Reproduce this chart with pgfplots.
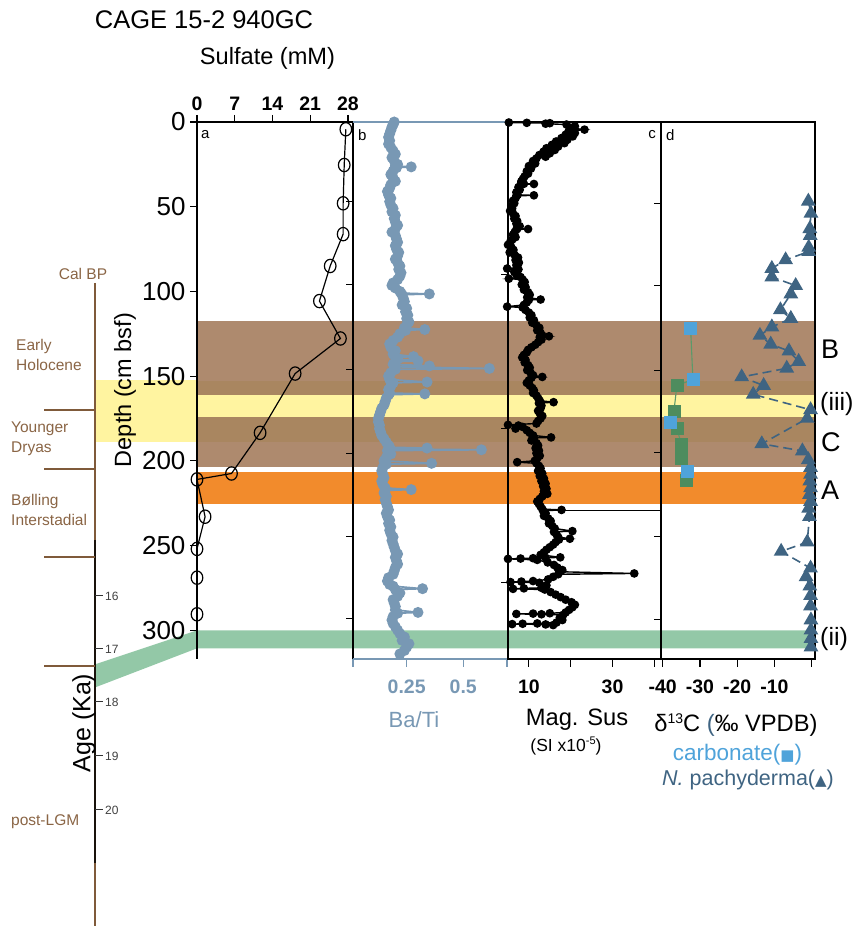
\documentclass[border=0pt]{standalone}
\usepackage{pgfplots}
\pgfplotsset{compat=1.18}
\usepackage{fontspec}
\setmainfont{Liberation Sans}
\newfontfamily\dejavu{DejaVu Sans}
\definecolor{lbrown}{HTML}{AE8A6E}
\definecolor{dbrown}{HTML}{A98660}
\definecolor{byellow}{HTML}{FFF4A0}
\definecolor{borange}{HTML}{F28B2C}
\definecolor{bgreen}{HTML}{93C8A7}
\definecolor{babl}{HTML}{7898B4}
\definecolor{tri}{HTML}{3F6482}
\definecolor{carb}{HTML}{4FA3DA}
\definecolor{sqgreen}{HTML}{4E8C5E}
\definecolor{sqline}{HTML}{5A9A6A}
\definecolor{agebrown}{HTML}{7F5A3A}
\definecolor{labbrown}{HTML}{8A6545}
\newcommand{\fs}[1]{\fontsize{#1}{#1}\selectfont}
\pgfplotsset{
  panel/.style={scale only axis, anchor=north west, height=537pt,
    ymin=-317, ymax=0, clip=false,
    tick style={black, line width=1.1pt}, major tick length=8pt,
    axis line style={-, line width=1.1pt}},
}
\begin{document}
\begin{tikzpicture}
\path[use as bounding box] (0pt,0pt) rectangle (853pt,926pt);

% ---------- background bands ----------
\begin{axis}[scale only axis, anchor=north west, at={(95pt,804pt)}, width=720pt, height=537pt,
  xmin=95, xmax=815, ymin=-317, ymax=0, hide axis, clip=false]
\addplot[fill=byellow, draw=none] coordinates {(95,-152.4) (197,-152.4) (197,-188.8) (95,-188.8)};
\addplot[fill=lbrown, draw=none] coordinates {(197,-117.5) (815,-117.5) (815,-152.8) (197,-152.8)};
\addplot[fill=dbrown, draw=none] coordinates {(197,-152.8) (815,-152.8) (815,-161.3) (197,-161.3)};
\addplot[fill=byellow, draw=none] coordinates {(197,-161.3) (815,-161.3) (815,-174.1) (197,-174.1)};
\addplot[fill=dbrown, draw=none] coordinates {(197,-174.1) (815,-174.1) (815,-188.8) (197,-188.8)};
\addplot[fill=lbrown, draw=none] coordinates {(197,-188.8) (815,-188.8) (815,-203.6) (197,-203.6)};
\addplot[fill=borange, draw=none] coordinates {(197,-206.5) (815,-206.5) (815,-225.6) (197,-225.6)};
\addplot[fill=bgreen, draw=none] coordinates {(95,-320.2) (197,-300.1) (815,-300.1) (815,-310.7) (197,-310.7) (95,-333.8)};
\end{axis}

% ---------- panel a : sulfate ----------
\begin{axis}[panel, at={(197pt,804pt)}, width=156pt, xmin=0, xmax=28.93,
  axis x line*=top, axis y line*=left,
  xtick={0,7,14,21,28}, xticklabels={0,7,14,21,28},
  ytick={-300,-250,-200,-150,-100,-50,0}, yticklabels={300,250,200,150,100,50,0},
  tick align=outside, major tick length=7pt,
  xticklabel style={font=\bfseries\fs{19.5}, yshift=1pt},
  yticklabel style={font=\fs{26}, xshift=-1pt}]
\addplot[black, line width=1.2pt, mark=o, mark size=5.8pt, mark options={line width=1.2pt, yscale=1.15}]
 table[x=v, y expr=-\thisrow{d}] {
v d
27.6 4.3
27.3 25.4
27.1 48
27.1 66.2
24.7 85
22.7 105.7
26.6 127.8
18.2 148.5
11.7 183.5
6.4 207.5
0.0 211
1.5 233
0.0 252
0.0 269
0.0 290.6
};
\end{axis}
\begin{axis}[panel, at={(197pt,804pt)}, width=156pt, xmin=0, xmax=28.93,
  axis x line=none, axis y line*=right, ytick={-293,-244.5,-195.5,-146,-96,-47},
  yticklabels={}, tick align=inside, major tick length=7pt]
\end{axis}

% ---------- panel b : Ba/Ti ----------
\begin{axis}[panel, at={(353pt,804pt)}, width=154pt, xmin=0.013, xmax=0.693,
  axis x line=box, axis y line=none, x axis line style={draw=babl, line width=1.1pt},
  xtick={0.013,0.25,0.5,0.693}, xticklabels={{},0.25,0.5,{}}, xtick pos=left,
  tick align=outside, tick style={babl, line width=1.1pt}, ytick=\empty,
  xticklabel style={font=\bfseries\fs{19.5}, text=babl, yshift=-9pt}]
\addplot[babl, line width=1.7pt, mark=*, mark size=4.6pt, mark options={fill=babl, draw=babl}]
 table[x=v, y expr=-\thisrow{d}] {
v d
0.195 0
0.19 1.5
0.185 3
0.18 5
0.175 7
0.17 9
0.175 11
0.17 13
0.18 15
0.19 17
0.2 19
0.185 21
0.195 23
0.21 25
0.2 26
0.27 26.5
0.205 27
0.19 29
0.18 31
0.19 33
0.2 35
0.18 37
0.175 39
0.165 41
0.17 43
0.18 45
0.175 47
0.18 49
0.19 51
0.185 53
0.2 55
0.195 57
0.2 59
0.21 61
0.2 63
0.185 65
0.2 67
0.205 69
0.21 71
0.2 73
0.205 75
0.215 77
0.21 79
0.2 81
0.21 83
0.22 85
0.215 87
0.225 89
0.22 91
0.21 93
0.19 95
0.185 96.5
0.2 98
0.22 100
0.225 101
0.35 101.5
0.23 102
0.235 104
0.24 106
0.23 108
0.25 110
0.245 112
0.255 114
0.25 116
0.26 118
0.25 120
0.24 121.5
0.33 122.5
0.245 123
0.22 125
0.21 127
0.19 129
0.175 131
0.18 133
0.2 135
0.19 137
0.28 138.5
0.2 139
0.21 140
0.3 141
0.2 141.5
0.19 143
0.35 144
0.2 144.5
0.615 145.5
0.2 146
0.18 148
0.17 150
0.175 152
0.34 153.5
0.19 154
0.18 156
0.17 158
0.175 160
0.33 160.5
0.17 161
0.16 163
0.155 165
0.15 167
0.14 169
0.135 171
0.13 173
0.125 175
0.125 177
0.13 179
0.13 181
0.135 183
0.14 185
0.15 187
0.16 189
0.17 191
0.175 192
0.34 192.5
0.17 193
0.58 193.5
0.165 194
0.18 196
0.16 198
0.15 200
0.36 201.5
0.16 202
0.145 204
0.14 206
0.145 208
0.15 210
0.14 212
0.145 214
0.155 216
0.27 217
0.155 217.5
0.15 219
0.16 221
0.155 223
0.16 225
0.165 227
0.17 229
0.16 231
0.165 233
0.175 235
0.17 237
0.18 239
0.175 241
0.18 243
0.19 245
0.185 247
0.19 249
0.195 251
0.2 253
0.21 255
0.2 257
0.205 259
0.21 261
0.2 263
0.195 265
0.19 267
0.17 269
0.165 271
0.175 273
0.19 274
0.32 275.5
0.2 276
0.22 278
0.21 280
0.19 282
0.195 284
0.2 286
0.2 288
0.3 289.5
0.21 290
0.19 292
0.185 294
0.19 296
0.2 298
0.21 300
0.22 302
0.24 304
0.23 306
0.26 308
0.25 310
0.24 312
0.22 314
};
\end{axis}

% ---------- panel c : magnetic susceptibility ----------
\begin{axis}[panel, at={(508pt,804pt)}, width=153pt, xmin=5, xmax=41.6,
  xtick={10,20,30,40}, xticklabels={10,{},30,{}}, xtick pos=left, ytick=\empty,
  tick align=outside, xticklabel style={font=\bfseries\fs{19.5}, yshift=-9pt}]
\addplot[black, line width=1.4pt, mark=*, mark size=3.6pt, mark options={fill=black}]
 table[x=v, y expr=-\thisrow{d}] {
v d
5.2 0.3
9.5 0.5
15 0.7
14 1.0
19 1.5
21 2.5
20 3.5
23.3 4.5
19.5 5.5
21 6.5
18.8 7.5
20.5 8.5
17.8 9.5
19.2 10.5
16.5 11.5
18.5 12.5
15.5 13.5
17 14.5
14.2 15.5
16.2 16.5
13.5 17.5
15 18.5
12.5 19.5
14 20.5
11.8 21.5
11 23
11.5 24.5
10 26
10.5 27.5
9.5 29
9.8 30.5
9 32
8.6 33.5
8.2 35
8.8 36.5
11.2 36.6
8 37
7.5 38.5
7.8 40
7 41.5
7.3 43
11.2 43.3
7 43.6
6.8 45
6.2 46.5
6.5 48
5.8 49.5
6 51
5.5 52.5
6.2 54
6.8 55.5
6.5 57
7.2 58.5
7 60
7.8 61.5
7.2 63
9.8 63.2
7 63.5
6.6 65
6.2 66.5
6.8 68
6 69.5
5.5 71
5 72.5
5.8 74
6.3 75.5
5.4 77
6.6 78.5
7.4 80
6.8 81.5
7.6 83
7 84.5
7.2 86
4.8 86.5
7.5 87
6.5 88.5
7 90
8 91.5
5.2 92.5
8.5 93
9 94.5
8.3 96
9.2 97.5
8.8 99
9.8 100.5
10.2 102
9.6 103.5
12.8 104.8
10 105
9.5 106.5
8.8 108
4.8 109
8.5 109.5
9.2 111
10 112.5
10.6 114
10.2 115.5
11.2 117
10.8 118.5
11.8 120
12.5 121.5
12 123
12.8 124.5
13.2 126
14.8 126.5
12.6 127
13 128.5
12.2 130
11.5 131.5
10.6 133
9.8 134.5
9.5 136
8.8 137.5
8.4 139
9.2 140.5
9 142
9.8 143.5
10.2 145
9.6 146.5
10.4 148
11 149.5
13.2 150.5
10.6 151
10 152.5
9.5 154
10.2 155.5
10.8 157
11.2 158.5
11 160
11.8 161.5
12.2 163
12.6 164.5
15.9 165.4
12.4 166
13 167.5
12.8 169
12.2 170.5
12.6 172
13.2 173.5
12.8 175
12.2 176.5
11.8 178
5.0 178.8
7.5 179.2
8.5 180
6.8 181
9.5 182
10.2 183.5
11 185
15.3 186.2
11.2 186.5
10.6 188
11.8 189.5
12.2 191
11.6 192.5
12.4 194
11.8 195.5
12.6 197
12 198.5
11.4 200
7.2 200.8
11.8 201.5
12.4 203
12.8 204.5
12.2 206
13.2 207.5
12.6 209
13.6 210.5
13 212
14 213.5
13.4 215
14.2 216.5
13.6 218
14.4 219.5
13.2 221
12.6 222.5
12 224
12.4 225.5
12.8 227
13.2 228.5
17.8 229
13.4 229.5
14 231
13.6 232.5
14.6 234
15.2 235.5
14.8 237
15.6 238.5
16.2 240
20.4 241.5
16 242
16.6 243.5
17 245
19.8 246
17.2 246.5
16.4 248
15.8 249.5
15 251
14.2 252.5
13.6 254
12.8 255.5
17.5 257
14 257.3
11 257.5
8 257.7
5 257.9
12 258.5
14.5 260
16 261.5
16.8 263
18 264.5
17.4 265.5
35.2 266.5
17 267
15.8 268.5
14.6 270
11 271
8.2 271.3
5.6 271.6
12.5 272
14.2 273.5
13 275
8.8 275.3
6.2 275.6
13.8 276
15.2 277.5
16.4 279
17.6 280.5
18.8 282
20.2 283.5
21 285
20.4 286.5
19.6 288
18.8 289.5
15 290
11 290.2
7 290.4
13 290.6
18.2 291
17.4 292.5
18 294
16.6 295.5
12 296
8.5 296.2
6 296.4
14 296.6
15.8 297
};
\addplot[black, line width=0.9pt] coordinates {(13.4,-229.3) (41.6,-229.3)};
\end{axis}
\begin{axis}[panel, at={(508pt,804pt)}, width=153pt, xmin=5, xmax=41.6,
  axis x line=none, axis y line*=left, ytick={-272,-181,-90},
  yticklabels={}, tick align=outside, major tick length=7pt]
\end{axis}
\begin{axis}[panel, at={(508pt,804pt)}, width=153pt, xmin=5, xmax=41.6,
  axis x line=none, axis y line*=right, ytick={-293.7,-244.5,-195,-146.6,-96.6,-48},
  yticklabels={}, tick align=inside, major tick length=7pt]
\end{axis}

% ---------- panel d : d13C ----------
\begin{axis}[panel, at={(661pt,804pt)}, width=154pt, xmin=-40.46, xmax=0.89,
  xtick={-40,-30,-20,-10,0}, xticklabels={-40,-30,-20,-10,{}}, xtick pos=left, ytick=\empty,
  tick align=outside, xticklabel style={font=\bfseries\fs{19.5}, yshift=-9pt}]
\addplot[sqline, line width=1.1pt] table[x=v, y expr=-\thisrow{d}] {
v d
-32.5 122
-31.9 152
-36.2 155.6
-37.0 171
-37.9 177
-36.2 181
-35.0 190
-35.0 195
-35.0 198.5
-33.3 206
-33.7 211.5
};
\addplot[only marks, mark=square*, mark size=6pt, color=sqgreen] table[x=v, y expr=-\thisrow{d}] {
v d
-36.2 155.6
-37.0 171
-36.2 181
-35.0 190
-35.0 195
-35.0 198.5
-33.7 211.5
};
\addplot[only marks, mark=square*, mark size=6pt, color=carb] table[x=v, y expr=-\thisrow{d}] {
v d
-32.5 122
-31.9 152
-37.9 177
-33.3 206
};
\addplot[tri, line width=1.6pt, dash pattern=on 9pt off 5pt, mark=triangle*, mark size=7pt,
  mark options={solid, fill=tri}] table[x=v, y expr=-\thisrow{d}] {
v d
-0.9 46.8
-0.2 53.9
-0.5 63
-0.4 67
-0.8 74
-0.8 76.5
-7 81.4
-10.7 86.5
-10.7 91.5
-4.3 96.6
-5.6 101.6
-8.4 110.9
-5.6 116
-10.7 121
-13.9 126
-11 131.2
-6.1 135.2
-3.5 141.4
-6.7 145.4
-18.8 150.5
-12.9 155.6
-15.7 160.8
-0.3 169.9
-1.2 175
-13.4 190
-2.5 194.2
-0.9 199.4
-0.3 204
-0.3 208
-0.5 212
-0.3 216
-0.6 220
-0.3 224
-0.8 228
-0.6 233
-1.2 248
-8.2 253.5
-0.3 263.4
-1.5 268.5
-0.5 274
-0.3 279.6
-0.3 285.7
-0.2 294
-0.2 300
-0.2 305
-0.2 310
};
\end{axis}

% ---------- decorations and texts (pixel coordinates, y downward) ----------
\begin{scope}[x=1pt, y=-1pt, yshift=926pt]
\draw[agebrown, line width=1.5pt] (95,283) -- (95,926);
\draw[black!80!agebrown, line width=1.2pt] (95,540) -- (95,863);
\foreach \yy/\lab in {596/16,649/17,702/18,756/19,810/20} {
  \draw[black!80, line width=1pt] (95,\yy) -- (103,\yy);
  \node[anchor=west, inner sep=0pt, font=\fs{12}, text=black!75] at (105,\yy) {\lab};
}
\foreach \yy in {410,469,557,666} \draw[agebrown, line width=1.5pt] (44,\yy) -- (95,\yy);
\node[text=labbrown, font=\fs{15.5}, inner sep=0pt] at (83,274) {Cal BP};
\node[anchor=west, align=left, text=labbrown, font=\fontsize{15.5}{20}\selectfont, inner sep=0pt] at (16,355) {Early\\Holocene};
\node[anchor=west, align=left, text=labbrown, font=\fontsize{15.5}{20}\selectfont, inner sep=0pt] at (11,439) {Younger\\Dryas};
\node[anchor=west, align=left, text=labbrown, font=\fontsize{15.5}{20}\selectfont, inner sep=0pt] at (11,510) {Bølling\\Interstadial};
\node[anchor=west, text=labbrown, font=\fs{15.5}, inner sep=0pt] at (11,822) {post-LGM};
\node[rotate=90, font=\fs{25}, inner sep=0pt] at (84,723) {Age (Ka)};

\node[font=\fs{25.5}] at (204,20) {CAGE 15-2 940GC};
\node[font=\fs{23.6}] at (267.5,58) {Sulfate (mM)};
\node[rotate=90, font=\fs{23.5}] at (125,390) {Depth (cm bsf)};
\node[anchor=west, font=\fs{15}, inner sep=0pt] at (201,135) {a};
\node[anchor=west, font=\fs{15}, inner sep=0pt] at (358,135) {b};
\node[anchor=east, font=\fs{15}, inner sep=0pt] at (656,135) {c};
\node[anchor=west, font=\fs{15}, inner sep=0pt] at (666,135) {d};
\node[anchor=west, font=\fs{27}, inner sep=0pt] at (821,349) {B};
\node[anchor=west, font=\fs{25}, inner sep=0pt] at (820,404) {(iii)};
\node[anchor=west, font=\fs{27}, inner sep=0pt] at (821,442) {C};
\node[anchor=west, font=\fs{27}, inner sep=0pt] at (821,490) {A};
\node[anchor=west, font=\fs{25}, inner sep=0pt] at (820,639) {(ii)};
\node[font=\fs{22}, text=babl] at (414,720) {Ba/Ti};
\node[font=\fs{23.7}] at (577,720) {Mag. Sus};
\node[font=\fs{17.5}] at (566,746) {(SI x10\raisebox{0.7ex}{\fs{11}-5})};
\node[font=\fs{23.7}] at (736,725) {δ\raisebox{0.7ex}{\fs{14}13}C \textcolor{tri}{(}‰ VPDB)};
\node[font=\fs{22.5}, text=carb] at (737.5,755) {carbonate({\dejavu\fs{15}■})};
\node[font=\fs{21.5}, text=tri] at (748,780) {\textit{N.} pachyderma({\dejavu\fs{15}▲})};
\end{scope}
\end{tikzpicture}
\end{document}
